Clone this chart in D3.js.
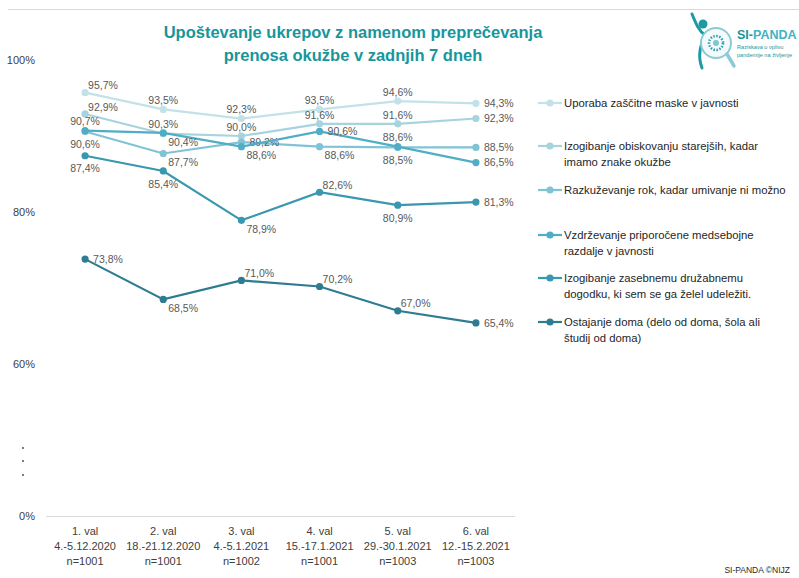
<!DOCTYPE html>
<html lang="sl">
<head>
<meta charset="UTF-8">
<title>SI-PANDA ukrepi</title>
<script src="https://cdn.jsdelivr.net/npm/d3@7"></script>
<style>
  body { margin: 0; background: #fff; }
  svg { font-family: "Liberation Sans", Arial, sans-serif; }
</style>
</head>
<body>
<div id="chart"></div>
<script>
// podatki
const waves = ["1. val", "2. val", "3. val", "4. val", "5. val", "6. val"];
const dates = ["4.-5.12.2020", "18.-21.12.2020", "4.-5.1.2021", "15.-17.1.2021", "29.-30.1.2021", "12.-15.2.2021"];
const sizes = ["n=1001", "n=1001", "n=1002", "n=1001", "n=1003", "n=1003"];

const seriesNames = [
  ["Uporaba zaščitne maske v javnosti"],
  ["Izogibanje obiskovanju starejših, kadar", "imamo znake okužbe"],
  ["Razkuževanje rok, kadar umivanje ni možno"],
  ["Vzdrževanje priporočene medsebojne", "razdalje v javnosti"],
  ["Izogibanje zasebnemu družabnemu", "dogodku, ki sem se ga želel udeležiti."],
  ["Ostajanje doma (delo od doma, šola ali", "študij od doma)"]
];
const maska      = [95.7, 93.5, 92.3, 93.5, 94.6, 94.3];
const starejsi   = [92.9, 90.3, 90.0, 91.6, 91.6, 92.3];
const razkuzevanje = [90.6, 87.7, 89.2, 88.6, 88.5, 88.5];
const razdalja   = [90.7, 90.4, 88.6, 90.6, 88.6, 86.5];
const druzabni   = [87.4, 85.4, 78.9, 82.6, 80.9, 81.3];
const doma       = [73.8, 68.5, 71.0, 70.2, 67.0, 65.4];
const yTicks = [0, 60, 80, 100];

const seriesValues = [maska, starejsi, razkuzevanje, razdalja, druzabni, doma];
const colors = ["#c3e1e9", "#a7d3df", "#80c3d6", "#4fadc6", "#3a97b0", "#2e7c92"];
// kje stoji oznaka vrednosti: a = nad, ar = nad desno, b = pod, br = pod desno, r = desno
const labelPlace = [
  ["ar", "a", "a", "a", "a", "r"],
  ["ar", "a", "a", "a", "a", "r"],
  ["b", "br", "r", "br", "b", "r"],
  ["a", "br", "br", "r", "a", "r"],
  ["b", "b", "br", "ar", "b", "r"],
  ["r", "br", "ar", "ar", "ar", "r"]
];

const W = 799, H = 578;
const svg = d3.select("#chart").append("svg").attr("width", W).attr("height", H);

// zgornja črta
svg.append("line").attr("x1", 8).attr("x2", W).attr("y1", 9.5).attr("y2", 9.5)
  .attr("stroke", "#d9d9d9").attr("stroke-width", 1);

// naslov
const title = svg.append("text").attr("text-anchor", "middle")
  .attr("fill", "#17969c").attr("font-weight", "bold").attr("font-size", 16.5);
title.append("tspan").attr("x", 353).attr("y", 38).text("Upoštevanje ukrepov z namenom preprečevanja");
title.append("tspan").attr("x", 353).attr("y", 61).text("prenosa okužbe v zadnjih 7 dneh");

// logo
const logo = svg.append("g");
logo.append("path").attr("d", "M692,14 C696,24 699,31 705,35 C701,44 697,55 702,68")
  .attr("fill", "none").attr("stroke", "#1f9aa3").attr("stroke-width", 3).attr("stroke-linecap", "round");
logo.append("circle").attr("cx", 703).attr("cy", 24).attr("r", 4.5).attr("fill", "#1f9aa3");
logo.append("circle").attr("cx", 716).attr("cy", 43).attr("r", 15)
  .attr("fill", "#f4fafb").attr("stroke", "#8ccbd3").attr("stroke-width", 2);
logo.append("circle").attr("cx", 716).attr("cy", 43).attr("r", 7)
  .attr("fill", "none").attr("stroke", "#2a9fb0").attr("stroke-width", 2.5).attr("stroke-dasharray", "1.5 1.5");
logo.append("circle").attr("cx", 716).attr("cy", 43).attr("r", 3).attr("fill", "#7cc7d3");
logo.append("line").attr("x1", 727).attr("y1", 54).attr("x2", 734).attr("y2", 66)
  .attr("stroke", "#8ccbd3").attr("stroke-width", 3.5).attr("stroke-linecap", "round");
const logoT = logo.append("text").attr("x", 737).attr("y", 39).attr("font-size", 12.5).attr("font-weight", "bold");
logoT.append("tspan").attr("fill", "#17969c").text("SI-");
logoT.append("tspan").attr("fill", "#3fb3c0").text("PANDA");
logo.append("text").attr("x", 737).attr("y", 49).attr("font-size", 5.6).attr("fill", "#17969c").text("Raziskava o vplivu");
logo.append("text").attr("x", 737).attr("y", 57).attr("font-size", 5.6).attr("fill", "#17969c").text("pandemije na življenje");

// skale
const x = d3.scalePoint().domain(waves).range([46, 515]).padding(0.5);
const y = d3.scaleLinear().domain([0, 60, 100]).range([516, 364, 60]);

// os y
svg.append("g").selectAll("text").data(yTicks).join("text")
  .attr("x", 35).attr("y", d => y(d)).attr("dy", "0.35em").attr("text-anchor", "end")
  .attr("font-size", 11).attr("fill", "#404040").text(d => d + "%");
// prekinitev osi
svg.append("g").selectAll("circle").data([448, 461, 475]).join("circle")
  .attr("cx", 23).attr("cy", d => d).attr("r", 0.9).attr("fill", "#404040");

// osnovna črta
svg.append("line").attr("x1", 46).attr("x2", 515).attr("y1", y(0) + 0.5).attr("y2", y(0) + 0.5)
  .attr("stroke", "#d9d9d9");

// oznake na osi x
const xl = svg.append("g").selectAll("text").data(waves).join("text")
  .attr("text-anchor", "middle").attr("font-size", 11).attr("fill", "#404040");
xl.append("tspan").attr("x", d => x(d)).attr("y", 535).text(d => d);
xl.append("tspan").attr("x", d => x(d)).attr("y", 550).text((d, i) => dates[i]);
xl.append("tspan").attr("x", d => x(d)).attr("y", 565).text((d, i) => sizes[i]);

// črte
const line = d3.line().x((d, i) => x(waves[i])).y(d => y(d));
const fmt = v => d3.format(".1f")(v).replace(".", ",") + "%";
const offs = {
  a:  { dx: 0, dy: -9, anchor: "middle" },
  ar: { dx: 3, dy: -7, anchor: "start" },
  b:  { dx: 0, dy: 13, anchor: "middle" },
  br: { dx: 5, dy: 9, anchor: "start" },
  r:  { dx: 8, dy: 0, anchor: "start" }
};

seriesValues.forEach((vals, s) => {
  const g = svg.append("g");
  g.append("path").attr("d", line(vals)).attr("fill", "none")
    .attr("stroke", colors[s]).attr("stroke-width", 2.2);
  g.selectAll("circle").data(vals).join("circle")
    .attr("cx", (d, i) => x(waves[i])).attr("cy", d => y(d)).attr("r", 3.6).attr("fill", colors[s]);
  g.selectAll("text").data(vals).join("text")
    .attr("x", (d, i) => x(waves[i]) + offs[labelPlace[s][i]].dx)
    .attr("y", (d, i) => y(d) + offs[labelPlace[s][i]].dy)
    .attr("dy", "0.35em")
    .attr("text-anchor", (d, i) => offs[labelPlace[s][i]].anchor)
    .attr("font-size", 10.5).attr("fill", "#595959")
    .text(fmt);
});

// legenda
const legendY = [103, 146, 190, 235, 278, 322];
const leg = svg.append("g").selectAll("g").data(seriesNames).join("g")
  .attr("transform", (d, i) => `translate(538,${legendY[i]})`);
leg.append("line").attr("x1", 0).attr("x2", 24).attr("stroke", (d, i) => colors[i]).attr("stroke-width", 2.2);
leg.append("circle").attr("cx", 12).attr("r", 3.6).attr("fill", (d, i) => colors[i]);
leg.each(function (d) {
  const t = d3.select(this).append("text").attr("font-size", 11.3).attr("fill", "#262626");
  d.forEach((ln, k) => t.append("tspan").attr("x", 26).attr("y", k * 16).attr("dy", "0.35em").text(ln));
});

// vir
svg.append("text").attr("x", 790).attr("y", 573).attr("text-anchor", "end")
  .attr("font-size", 8.5).attr("fill", "#262626").text("SI-PANDA ©NIJZ");
</script>
</body>
</html>
